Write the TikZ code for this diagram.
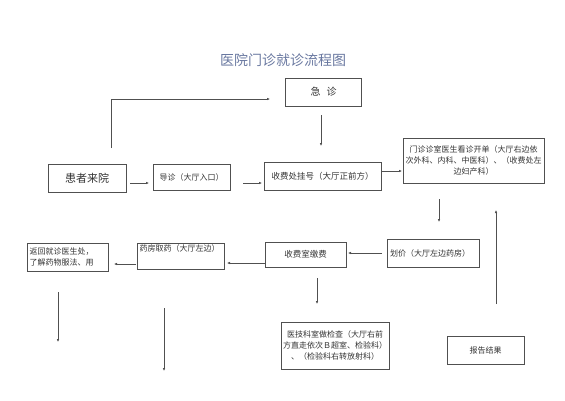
\documentclass[tikz,border=0pt]{standalone}
\usepackage{fontspec}
\newfontfamily\cjk{Noto Sans CJK SC}
\usetikzlibrary{arrows.meta}
\definecolor{titlec}{RGB}{105,120,160}
\definecolor{linec}{RGB}{80,80,80}
\definecolor{textc}{RGB}{50,50,50}
\begin{document}
\begin{tikzpicture}[x=1pt,y=-1pt,
  box/.style={draw=linec,line width=0.7pt,rectangle,inner sep=1pt,text=textc,font=\cjk\fontsize{8}{11}\selectfont,align=center},
  conn/.style={draw=linec,line width=0.6pt,-{Latex[length=3pt,width=2.6pt]}}]
\useasboundingbox (0,0) rectangle (565,400);
\node[text=titlec,font=\cjk\fontsize{14}{16}\selectfont] (title) at (283,60) {医院门诊就诊流程图};
\node[box,minimum width=76pt,minimum height=28pt,font=\cjk\fontsize{10}{12}\selectfont] (jz) at (323.5,92) {急\hspace{6pt}诊};
\node[box,minimum width=78pt,minimum height=28pt,font=\cjk\fontsize{11}{13}\selectfont] (hz) at (87,178) {患者来院};
\node[box,minimum width=77pt,minimum height=26pt] (dz) at (191.5,177) {导诊（大厅入口）};
\node[box,minimum width=117pt,minimum height=28pt,font=\cjk\fontsize{8.5}{11}\selectfont] (sf) at (322.5,176) {收费处挂号（大厅正前方）};
\node[box,minimum width=141pt,minimum height=45pt,text width=136pt] (mz) at (473.5,160.5) {门诊诊室医生看诊开单（大厅右边依\\次外科、内科、中医科）、（收费处左\\边妇产科）};
\node[box,minimum width=92pt,minimum height=28pt,align=left,text width=86pt] (hj) at (433,253) {划价（大厅左边药房）};
\node[box,minimum width=81pt,minimum height=25pt,font=\cjk\fontsize{8.5}{11}\selectfont] (jf) at (305.5,254.5) {收费室缴费};
\node[box,minimum width=87pt,minimum height=26pt,align=left,text width=82pt] (yf) at (180.5,256) {药房取药（大厅左边）\\[4pt]~};
\node[box,minimum width=81pt,minimum height=28pt,align=left,text width=76pt] (fh) at (67.5,257) {返回就诊医生处，\\了解药物服法、用};
\node[box,minimum width=108pt,minimum height=47pt,text width=104pt] (yj) at (335,345.5) {医技科室做检查（大厅右前\\方直走依次Ｂ超室、检验科）\\、（检验科右转放射科）};
\node[box,minimum width=77pt,minimum height=28pt] (bg) at (485.5,350) {报告结果};

\coordinate (a1) at (111,148); \coordinate (a2) at (270,99);
\draw[conn] (a1) |- (a2);
\coordinate (b1) at (321,115); \coordinate (b2) at (321,146);
\draw[conn] (b1) -- (b2);
\coordinate (c1) at (130,183); \coordinate (c2) at (149,183);
\draw[conn] (c1) -- (c2);
\coordinate (d1) at (243,183); \coordinate (d2) at (262,183);
\draw[conn] (d1) -- (d2);
\coordinate (e1) at (381,171); \coordinate (e2) at (402,171);
\draw[conn] (e1) -- (e2);
\coordinate (f1) at (439,199); \coordinate (f2) at (439,222);
\draw[conn] (f1) -- (f2);
\coordinate (g1) at (496,304); \coordinate (g2) at (496,210);
\draw[conn] (g1) -- (g2);
\coordinate (h1) at (382,253); \coordinate (h2) at (348,253);
\draw[conn] (h1) -- (h2);
\coordinate (i1) at (265,263); \coordinate (i2) at (227,263);
\draw[conn] (i1) -- (i2);
\coordinate (j1) at (136,264); \coordinate (j2) at (114,264);
\draw[conn] (j1) -- (j2);
\coordinate (k1) at (58,292); \coordinate (k2) at (58,342);
\draw[conn] (k1) -- (k2);
\coordinate (l1) at (164,308); \coordinate (l2) at (164,371);
\draw[conn] (l1) -- (l2);
\coordinate (m1) at (317,278); \coordinate (m2) at (317,304);
\draw[conn] (m1) -- (m2);
\end{tikzpicture}
\end{document}
